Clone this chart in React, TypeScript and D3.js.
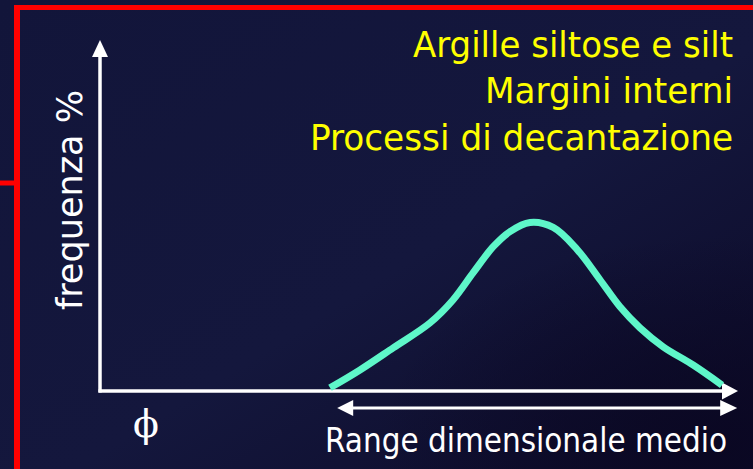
import React from "react";
import * as d3 from "d3";

// ---- data ----
const curveX = [5.75, 6.5, 7.33, 8.25, 8.83, 9.33, 9.83, 10.25, 10.75, 11.33, 11.93, 12.5, 13.0, 13.5, 14.08, 14.83, 15.55];
const curveY = [0.9, 6.0, 12.3, 19.4, 26.0, 33.7, 41.1, 45.4, 48.0, 46.6, 40.3, 31.7, 24.0, 18.0, 12.6, 7.4, 1.7];
const titleLines = ["Argille siltose e silt", "Margini interni", "Processi di decantazione"];
const yLabel = "frequenza %";
const xLabel = "Range dimensionale medio";
const phiLabel = "\u03D5";
const rangeStart = 5.93;
const rangeEnd = 15.93;
const xDomain = [0, 16];
const yDomain = [0, 100];

const W = 753;
const H = 469;

export default function App() {
  const x = d3.scaleLinear().domain(xDomain).range([100, 740]);
  const y = d3.scaleLinear().domain(yDomain).range([391, 40]);
  const pts: [number, number][] = curveX.map((v, i) => [v, curveY[i]]);
  const line = d3
    .line<[number, number]>()
    .x((d) => x(d[0]))
    .y((d) => y(d[1]))
    .curve(d3.curveCatmullRom.alpha(0.5));

  const x0 = x(0);
  const y0 = y(0);
  const yTop = y(yDomain[1]);
  const xEnd = x(15.95);
  const rY = y0 + 17;
  const rL = x(rangeStart);
  const rR = x(rangeEnd);

  const font = "'DejaVu Sans Condensed', 'DejaVu Sans', Tahoma, sans-serif";
  const titleWidths = [320, 248, 423];
  const titleBase = [57, 103, 150];

  return (
    <svg
      width={W}
      height={H}
      viewBox={`0 0 ${W} ${H}`}
      style={{ position: "absolute", left: 0, top: 0, display: "block" }}
    >
      <defs>
        <linearGradient id="bg" x1="0" y1="0" x2="1" y2="1">
          <stop offset="0" stopColor="#12153a" />
          <stop offset="0.55" stopColor="#14173d" />
          <stop offset="1" stopColor="#0c0a27" />
        </linearGradient>
        <radialGradient id="dark" cx="0.95" cy="0.95" r="0.45">
          <stop offset="0" stopColor="#0a0722" stopOpacity="0.9" />
          <stop offset="1" stopColor="#0a0722" stopOpacity="0" />
        </radialGradient>
      </defs>
      <rect x={0} y={0} width={W} height={H} fill="url(#bg)" />
      <rect x={0} y={0} width={W} height={H} fill="url(#dark)" />

      {/* red frame */}
      <line x1={14} y1={7.5} x2={W} y2={7.5} stroke="#ff0000" strokeWidth={5} />
      <line x1={17} y1={5} x2={17} y2={H} stroke="#ff0000" strokeWidth={6} />
      <line x1={0} y1={183} x2={14} y2={183} stroke="#ff0000" strokeWidth={5} />

      {/* title */}
      {titleLines.map((t, i) => (
        <text
          key={t}
          x={733}
          y={titleBase[i]}
          textAnchor="end"
          fill="#ffff00"
          fontFamily={font}
          fontSize={36}
          textLength={titleWidths[i]}
          lengthAdjust="spacingAndGlyphs"
        >
          {t}
        </text>
      ))}

      {/* y axis */}
      <line x1={x0} y1={y0 + 1.5} x2={x0} y2={yTop + 14} stroke="#ffffff" strokeWidth={3.5} />
      <path
        d={`M${x0},${yTop} L${x0 - 8},${yTop + 17} L${x0 + 8},${yTop + 17} Z`}
        fill="#ffffff"
      />
      {/* x axis */}
      <line x1={x0 - 1.5} y1={y0} x2={xEnd - 14} y2={y0} stroke="#ffffff" strokeWidth={3.5} />
      <path
        d={`M${xEnd},${y0} L${xEnd - 16},${y0 - 8.5} L${xEnd - 16},${y0 + 8.5} Z`}
        fill="#ffffff"
      />

      {/* curve */}
      <path
        d={line(pts) || ""}
        fill="none"
        stroke="#5ef7c9"
        strokeWidth={7}
        strokeLinecap="butt"
        strokeLinejoin="round"
      />

      {/* range double arrow */}
      <line x1={rL + 12} y1={rY} x2={rR - 12} y2={rY} stroke="#ffffff" strokeWidth={3} />
      <path d={`M${rL},${rY} L${rL + 16},${rY - 8} L${rL + 16},${rY + 8} Z`} fill="#ffffff" />
      <path d={`M${rR},${rY} L${rR - 17},${rY - 8} L${rR - 17},${rY + 8} Z`} fill="#ffffff" />

      {/* labels */}
      <text
        transform={`translate(82,310) rotate(-90)`}
        fill="#ffffff"
        fontFamily={font}
        fontSize={36}
        textLength={220}
        lengthAdjust="spacingAndGlyphs"
      >
        {yLabel}
      </text>
      <text
        x={146}
        y={437}
        textAnchor="middle"
        fill="#ffffff"
        fontFamily="'DejaVu Serif', 'Liberation Serif', serif"
        fontSize={38}
      >
        {phiLabel}
      </text>
      <text
        x={325}
        y={452}
        fill="#ffffff"
        fontFamily={font}
        fontSize={33}
        textLength={402}
        lengthAdjust="spacingAndGlyphs"
      >
        {xLabel}
      </text>
    </svg>
  );
}
